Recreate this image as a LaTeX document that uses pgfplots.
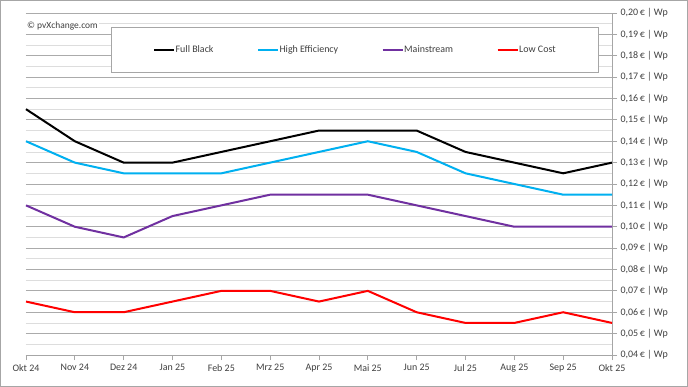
\documentclass[border=0pt]{standalone}
\usepackage{pgfplots}
\pgfplotsset{compat=1.18}
\usepackage{fontspec}
\setmainfont{Carlito}
\definecolor{hecol}{HTML}{00B0F0}
\definecolor{mscol}{HTML}{7030A0}
\definecolor{lccol}{HTML}{FF0000}
\definecolor{txt}{HTML}{404040}
\definecolor{majgrid}{HTML}{ABABAB}
\definecolor{mingrid}{HTML}{DDDDDD}
\definecolor{axcol}{HTML}{A6A6A6}
\begin{document}
\begin{tikzpicture}
\useasboundingbox (0,0) rectangle (688bp,387bp);
\fill[white] (0,0) rectangle (688bp,387bp);
\draw[axcol] (0.5bp,0.5bp) rectangle (687.5bp,386.5bp);
\begin{axis}[
  at={(26bp,32bp)}, anchor=south west,
  scale only axis, width=586bp, height=342bp,
  xmin=0, xmax=12, ymin=0.04, ymax=0.20,
  axis x line=bottom, axis y line=right,
  axis line style={-, axcol, line width=0.8bp},
  xtick={0,...,12},
  xticklabels={Okt 24,Nov 24,Dez 24,Jan 25,Feb 25,Mrz 25,Apr 25,Mai 25,Jun 25,Jul 25,Aug 25,Sep 25,Okt 25},
  ytick={0.04,0.05,...,0.205},
  minor ytick={0.045,0.055,...,0.2},
  ymajorgrids, yminorgrids,
  major grid style={majgrid, line width=0.8bp},
  minor grid style={mingrid, line width=0.8bp},
  tick align=outside,
  major tick length=5bp,
  minor tick length=0pt,
  tick style={axcol, line width=0.8bp},
  /pgf/number format/.cd, fixed, fixed zerofill, precision=2, use comma, assume math mode=true,
  /pgfplots/.cd,
  yticklabel={\pgfmathprintnumber{\tick}\,€ | Wp},
  yticklabel style={font=\fontsize{10}{12}\selectfont, text=txt, xshift=0bp},
  xticklabel style={font=\fontsize{10}{12}\selectfont, text=txt, yshift=-1bp},
  legend columns=4,
  legend image code/.code={\draw[#1] (0bp,0bp) -- (20bp,0bp);},
  legend style={at={(axis description cs:0.145,0.959)}, anchor=north west,
    draw=axcol, fill=white, inner xsep=42bp, inner ysep=18bp,
    font=\fontsize{10}{12}\selectfont, text=txt,
    nodes={inner sep=0.5bp},
    /tikz/every even column/.append style={column sep=43bp}},
  clip=false,
]
\addplot[black, line width=2bp] coordinates {(0,0.155)(1,0.14)(2,0.13)(3,0.13)(4,0.135)(5,0.14)(6,0.145)(7,0.145)(8,0.145)(9,0.135)(10,0.13)(11,0.125)(12,0.13)};
\addlegendentry{Full Black}
\addplot[hecol, line width=2bp] coordinates {(0,0.14)(1,0.13)(2,0.125)(3,0.125)(4,0.125)(5,0.13)(6,0.135)(7,0.14)(8,0.135)(9,0.125)(10,0.12)(11,0.115)(12,0.115)};
\addlegendentry{High Efficiency}
\addplot[mscol, line width=2bp] coordinates {(0,0.11)(1,0.10)(2,0.095)(3,0.105)(4,0.11)(5,0.115)(6,0.115)(7,0.115)(8,0.11)(9,0.105)(10,0.10)(11,0.10)(12,0.10)};
\addlegendentry{Mainstream}
\addplot[lccol, line width=2bp] coordinates {(0,0.065)(1,0.06)(2,0.06)(3,0.065)(4,0.07)(5,0.07)(6,0.065)(7,0.07)(8,0.06)(9,0.055)(10,0.055)(11,0.06)(12,0.055)};
\addlegendentry{Low Cost}
\node[anchor=west, fill=white, inner sep=1bp, text=txt, font=\fontsize{9.5}{11}\selectfont] at (axis description cs:0.0,0.962) {© pvXchange.com};
\end{axis}
\end{tikzpicture}
\end{document}
